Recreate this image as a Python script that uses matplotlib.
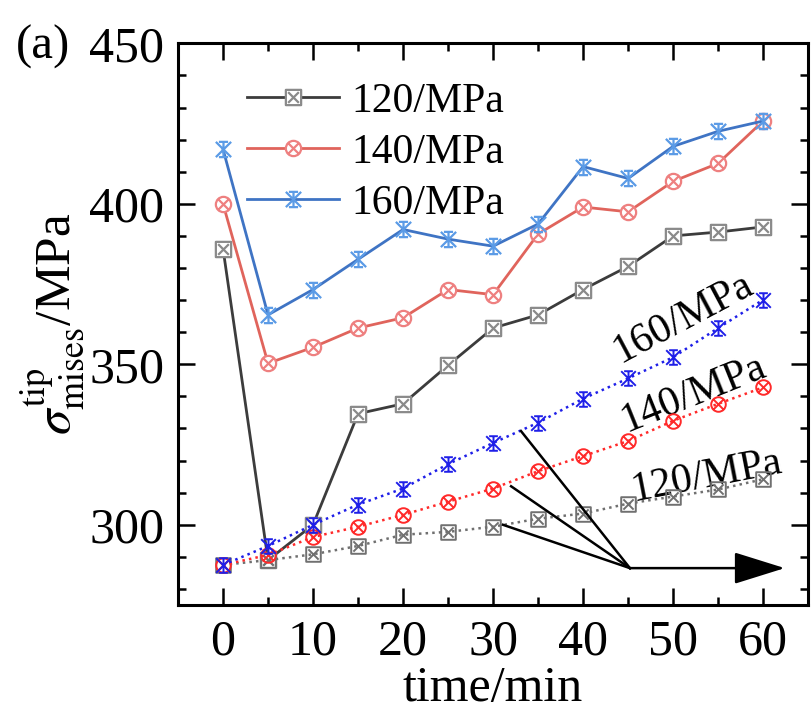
import matplotlib
matplotlib.use('Agg')
import matplotlib.pyplot as plt
from matplotlib.path import Path
import numpy as np

plt.rcParams['font.family'] = ['Liberation Serif', 'DejaVu Serif']
plt.rcParams['mathtext.fontset'] = 'stix'

# ---------------- data ----------------
time_min = [0, 5, 10, 15, 20, 25, 30, 35, 40, 45, 50, 55, 60]
upper_120 = [386, 289, 300, 334.6, 337.7, 349.7, 361.3, 365.4, 373.3, 380.5, 390, 391.2, 392.8]
upper_140 = [400, 350.3, 355.3, 361.3, 364.5, 373.3, 371.7, 390.6, 399, 397.5, 407, 412.6, 425.8]
upper_160 = [417, 365.4, 373.3, 382.7, 392, 389, 386.8, 393.7, 411.6, 407.9, 417.9, 422.6, 425.8]
lower_120 = [287.5, 289, 290.8, 293.4, 296.9, 297.8, 299.4, 301.9, 303.5, 306.6, 308.8, 311, 314.2]
lower_140 = [287.5, 290.6, 296.2, 299.4, 303.1, 307.2, 311.3, 316.7, 321.4, 326.1, 332.4, 337.7, 342.8]
lower_160 = [287.5, 293.4, 300, 306.3, 311.3, 318.9, 325.5, 331.8, 339.3, 345.6, 352.2, 361.3, 370.1]
series_labels = ['120/MPa', '140/MPa', '160/MPa']
x_ticks = [0, 10, 20, 30, 40, 50, 60]
y_ticks = [300, 350, 400, 450]

# ---------------- markers ----------------
def diag(s=0.7):
    return Path([(-s, -s), (s, s), (-s, s), (s, -s)],
                [Path.MOVETO, Path.LINETO, Path.MOVETO, Path.LINETO])

sq = Path([(-1, -1), (1, -1), (1, 1), (-1, 1), (-1, -1)],
          [Path.MOVETO, Path.LINETO, Path.LINETO, Path.LINETO, Path.CLOSEPOLY])
m_sqx = Path.make_compound_path(sq, diag(0.7))
m_cix = Path.make_compound_path(Path.unit_circle(), diag(0.7))
star = Path([(-1, -1), (1, 1), (-1, 1), (1, -1), (-0.6, 1), (0.6, 1), (-0.6, -1), (0.6, -1), (0, -1), (0, 1)],
            [Path.MOVETO, Path.LINETO, Path.MOVETO, Path.LINETO, Path.MOVETO, Path.LINETO,
             Path.MOVETO, Path.LINETO, Path.MOVETO, Path.LINETO])
markers = [m_sqx, m_cix, star]

up_line_colors = ['#3c3c3c', '#e0645c', '#3f74c4']
up_mk_colors = ['#8a8a8a', '#ee8080', '#5b9be6']
low_colors = ['#707070', '#ff2a2a', '#1f1fe8']

fig = plt.figure(figsize=(8.11, 7.22), dpi=100)
ax = fig.add_axes([0.2195, 0.162, 0.777, 0.778])

uppers = [upper_120, upper_140, upper_160]
lowers = [lower_120, lower_140, lower_160]
handles = []
for i in range(3):
    h, = ax.plot(time_min, uppers[i], '-', color=up_line_colors[i], lw=2.0,
                 marker=markers[i], ms=11, mfc='white', mec=up_mk_colors[i], mew=1.6,
                 label=series_labels[i], zorder=3)
    handles.append(h)
for i in range(3):
    ax.plot(time_min, lowers[i], ':', color=low_colors[i], lw=1.8,
            marker=markers[i], ms=10.5, mfc='none', mec=low_colors[i], mew=1.4, zorder=4)

# pointer lines and arrow
hub = (45.2, 286.5)
for sx, sy in [(33.1, 329.2), (32.0, 312.0), (31.1, 300.0)]:
    ax.plot([sx, hub[0]], [sy, hub[1]], '-', color='black', lw=1.8, zorder=5)
ax.annotate('', xy=(62.4, hub[1]), xytext=hub,
            arrowprops=dict(arrowstyle='-|>,head_length=3.2,head_width=1.0',
                            mutation_scale=10, color='black', lw=1.8,
                            shrinkA=0, shrinkB=0), zorder=5)

ax.text(51.1, 364.5, '160/MPa', fontsize=30, rotation=28, rotation_mode='anchor',
        ha='center', va='center')
ax.text(52.3, 340.9, '140/MPa', fontsize=30, rotation=22, rotation_mode='anchor',
        ha='center', va='center')
ax.text(53.7, 315.1, '120/MPa', fontsize=30, rotation=11, rotation_mode='anchor',
        ha='center', va='center')

ax.set_xlim(-5, 65)
ax.set_ylim(275, 450)
ax.set_xticks(x_ticks)
ax.set_yticks(y_ticks)
ax.set_xticks(np.arange(5, 65, 10), minor=True)
ax.set_yticks(np.arange(280, 450, 10), minor=True)
ax.tick_params(which='both', direction='in', top=True, right=True, width=1.8)
ax.tick_params(which='major', length=12, labelsize=36, pad=10)
ax.tick_params(which='minor', length=6)
for sp in ax.spines.values():
    sp.set_linewidth(2.2)

ax.set_xlabel('time/min', fontsize=36, labelpad=0)
ax.set_ylabel(r'$\sigma^{\rm tip}_{\rm mises}$/MPa', fontsize=37, labelpad=2)

ax.legend(handles=handles, loc='upper left', bbox_to_anchor=(0.07, 0.975),
          frameon=False, fontsize=30, handlelength=2.2, handletextpad=0.3,
          labelspacing=0.3, borderaxespad=0.2)

fig.text(0.053, 0.935, '(a)', fontsize=35, ha='center', va='center')

fig.savefig('out.png', dpi=100)
